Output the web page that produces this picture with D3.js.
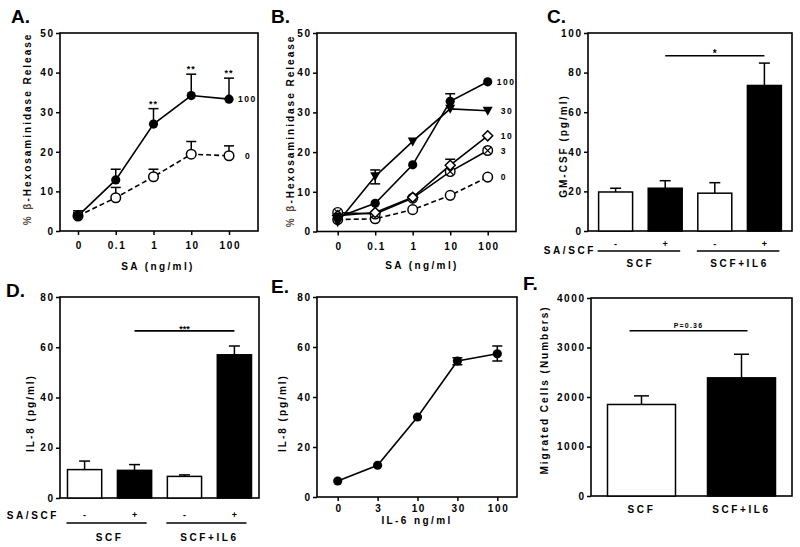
<!DOCTYPE html>
<html><head><meta charset="utf-8">
<script src="https://cdn.jsdelivr.net/npm/d3@7"></script>
<style>body{margin:0;background:#fff}svg text{font-family:'Liberation Sans',Arial,sans-serif;font-weight:bold;fill:#000}</style>
</head><body><script>
// ---------- DATA ----------
const saDoses = ["0","0.1","1","10","100"];
const aYTicks = [0,10,20,30,40,50];
const aNames = ["100","0"];
const aVal100 = [3.8,12.9,27.0,34.2,33.3];
const aErr100 = [5.1,15.6,30.9,39.6,38.6];
const aVal0   = [3.8,8.4,13.7,19.4,19.0];
const aErr0   = [4.6,11.0,15.6,22.6,21.5];
const aStars  = ["","","**","**","**"];

const bYTicks = [0,10,20,30,40,50];
const bNames = ["100","30","10","3","0"];
const bVal100 = [3.6,7.1,16.8,32.8,37.7];
const bErr100 = [null,null,null,34.7,null];
const bVal30  = [2.3,13.9,22.7,30.9,30.4];
const bErr30Lo= [null,12.0,null,null,null];
const bErr30Hi= [null,15.5,null,null,null];
const bVal10  = [4.0,4.8,8.6,16.7,24.1];
const bErr10  = [null,null,null,18.2,null];
const bVal3   = [4.8,4.4,8.4,15.1,20.4];
const bVal0   = [3.0,3.2,5.5,9.1,13.7];

const barSigns = ["-","+","-","+"];
const barGroups = ["SCF","SCF+IL6"];
const cYTicks = [0,20,40,60,80,100];
const cVals = [19.7,21.6,19.1,73.5];
const cErr  = [21.6,25.4,24.4,84.8];
const cSig  = {from:1,to:3,level:88.5,label:"*"};

const dYTicks = [0,20,40,60,80];
const dVals = [11.3,11.0,8.6,57.0];
const dErr  = [14.7,13.3,9.2,60.5];
const dSig  = {from:1,to:3,level:66.5,label:"***"};

const il6Doses = ["0","3","10","30","100"];
const eYTicks = [0,20,40,60,80];
const eVals  = [6.4,12.7,32.0,54.4,57.3];
const eErrLo = [null,null,null,52.9,54.4];
const eErrHi = [null,null,null,55.7,60.4];

const fCats = ["SCF","SCF+IL6"];
const fYTicks = [0,1000,2000,3000,4000];
const fVals = [1849,2387];
const fErr  = [2023,2864];
const fSig  = {level:3339,label:"P=0.36"};

// ---------- SETUP ----------
const svg = d3.select("body").append("svg").attr("width",800).attr("height",547);
const FONT = "'Liberation Sans',Arial,sans-serif";
const SW = 1.6;

function frame(p){
  svg.append("rect").attr("x",p.l).attr("y",p.t).attr("width",p.r-p.l).attr("height",p.b-p.t)
    .attr("fill","none").attr("stroke","#000").attr("stroke-width",SW);
}
function styleAxis(g){
  g.attr("font-family",FONT).attr("font-size",10).attr("font-weight","bold");
  g.select(".domain").remove();
  g.selectAll("line").attr("stroke-width",1.5);
  g.selectAll("text").attr("letter-spacing","1.6px");
}
function yAxis(p,y,ticks){
  const g = svg.append("g").attr("transform",`translate(${p.l},0)`)
    .call(d3.axisLeft(y).tickValues(ticks).tickSize(4).tickPadding(3).tickFormat(d3.format("d")));
  styleAxis(g);
  g.selectAll("text").attr("dx","1.6");
}
function xAxis(p,x,pad){
  const g = svg.append("g").attr("transform",`translate(0,${p.b})`)
    .call(d3.axisBottom(x).tickSize(4).tickPadding(pad));
  styleAxis(g);
  g.selectAll("text").attr("dx","0.8");
}
function label(txt,x,y,opt={}){
  const t = svg.append("text").attr("x",x).attr("y",y).text(txt)
    .attr("font-size",opt.size||10).attr("text-anchor",opt.anchor||"middle")
    .attr("letter-spacing",(opt.ls!==undefined?opt.ls:2)+"px");
  if(opt.rot) t.attr("transform",`rotate(-90,${x},${y})`);
  if(opt.fill) t.attr("fill",opt.fill);
  return t;
}
function title(txt,x,y){ svg.append("text").attr("x",x).attr("y",y).text(txt).attr("font-size",19); }
function err(x,y1,y2,cap=10){
  svg.append("line").attr("x1",x).attr("x2",x).attr("y1",y1).attr("y2",y2).attr("stroke","#000").attr("stroke-width",1.5);
  svg.append("line").attr("x1",x-cap/2).attr("x2",x+cap/2).attr("y1",y2).attr("y2",y2).attr("stroke","#000").attr("stroke-width",1.5);
}
function marker(type,x,y){
  const g = svg.append("g").attr("transform",`translate(${x},${y})`);
  if(type==="filled") g.append("circle").attr("r",4.6).attr("fill","#000");
  else if(type==="open") g.append("circle").attr("r",4.8).attr("fill","#fff").attr("stroke","#000").attr("stroke-width",1.5);
  else if(type==="tri") g.append("path").attr("d","M-5,-4L5,-4L0,5Z").attr("fill","#000");
  else if(type==="diamond") g.append("path").attr("d","M0,-5L5,0L0,5L-5,0Z").attr("fill","#fff").attr("stroke","#000").attr("stroke-width",1.5);
  else if(type==="xcircle"){
    g.append("circle").attr("r",4.8).attr("fill","#fff").attr("stroke","#000").attr("stroke-width",1.4);
    g.append("path").attr("d","M-3.3,-3.3L3.3,3.3M-3.3,3.3L3.3,-3.3").attr("stroke","#000").attr("stroke-width",1.2);
  }
}
function line(x,y,vals,dash){
  const gen = d3.line().x((d,i)=>x(i)).y(d=>y(d));
  svg.append("path").attr("d",gen(vals)).attr("fill","none").attr("stroke","#000")
    .attr("stroke-width",1.6).attr("stroke-dasharray",dash?"5,3":null);
}

// ---------- PANEL A ----------
{
  const p = {l:60,r:258,t:33,b:231};
  const x = d3.scalePoint().domain(saDoses).range([78,229]);
  const xi = i=>x(saDoses[i]);
  const y = d3.scaleLinear().domain([0,50]).range([p.b,p.t]);
  title("A.",11,23);
  frame(p); yAxis(p,y,aYTicks); xAxis(p,x,7);
  line(xi,y,aVal0,true); line(xi,y,aVal100,false);
  aVal0.forEach((v,i)=>{ if(aErr0[i]!=null) err(xi(i),y(v),y(aErr0[i])); });
  aVal100.forEach((v,i)=>{ if(aErr100[i]!=null) err(xi(i),y(v),y(aErr100[i])); });
  aVal0.forEach((v,i)=>marker("open",xi(i),y(v)));
  aVal100.forEach((v,i)=>marker("filled",xi(i),y(v)));
  aStars.forEach((s,i)=>{ if(s) label(s,xi(i),y(aErr100[i])-2,{size:9,ls:1}); });
  label(aNames[0],xi(4)+9,y(aVal100[4])+3,{anchor:"start",size:8.5,ls:1.5});
  label(aNames[1],xi(4)+16,y(aVal0[4])+3,{anchor:"start",size:8.5,ls:1.5});
  const yl = label("",31,129,{rot:true});
  yl.append("tspan").text("% β").attr("fill","#5a4438");
  yl.append("tspan").text("-Hexosaminidase Release");
  label("SA (ng/ml)",158,270,{ls:2.4});
}

// ---------- PANEL B ----------
{
  const p = {l:317,r:516,t:33,b:231.5};
  const x = d3.scalePoint().domain(saDoses).range([337.7,487.7]);
  const xi = i=>x(saDoses[i]);
  const y = d3.scaleLinear().domain([0,50]).range([p.b,p.t]);
  title("B.",271,23);
  frame(p); yAxis(p,y,bYTicks); xAxis(p,x,7);
  line(xi,y,bVal0,true);
  line(xi,y,bVal3,false); line(xi,y,bVal10,false); line(xi,y,bVal30,false); line(xi,y,bVal100,false);
  bErr100.forEach((e,i)=>{ if(e!=null) err(xi(i),y(bVal100[i]),y(e)); });
  bErr10.forEach((e,i)=>{ if(e!=null) err(xi(i),y(bVal10[i]),y(e)); });
  bErr30Hi.forEach((e,i)=>{ if(e!=null){ err(xi(i),y(bVal30[i]),y(e)); err(xi(i),y(bVal30[i]),y(bErr30Lo[i])); } });
  bVal0.forEach((v,i)=>marker("open",xi(i),y(v)));
  bVal3.forEach((v,i)=>marker("xcircle",xi(i),y(v)));
  bVal10.forEach((v,i)=>marker("diamond",xi(i),y(v)));
  bVal100.forEach((v,i)=>marker("filled",xi(i),y(v)));
  bVal30.forEach((v,i)=>marker("tri",xi(i),y(v)));
  const lastVals = [bVal100[4],bVal30[4],bVal10[4],bVal3[4],bVal0[4]];
  bNames.forEach((n,k)=>label(n,xi(4)+(k===0?9:13),y(lastVals[k])+3,{anchor:"start",size:8.5,ls:1.5}));
  const yl = label("",294,131,{rot:true});
  yl.append("tspan").text("% β").attr("fill","#5a4438");
  yl.append("tspan").text("-Hexosaminidase Release");
  label("SA (ng/ml)",422,269,{ls:2.4});
}

// ---------- bar panel helper ----------
function barPanel(p,vals,errs,yDomain,ticks,fills,po){
  const x = d3.scaleBand().domain(d3.range(vals.length)).range([p.l,p.r]).paddingInner(0.315).paddingOuter(po);
  const y = d3.scaleLinear().domain(yDomain).range([p.b,p.t]);
  frame(p); yAxis(p,y,ticks);
  vals.forEach((v,i)=>err(x(i)+x.bandwidth()/2,y(v),y(errs[i]),11));
  svg.append("g").selectAll("rect").data(vals).join("rect")
    .attr("x",(d,i)=>x(i)).attr("y",d=>y(d)).attr("width",x.bandwidth()).attr("height",d=>p.b-y(d))
    .attr("fill",(d,i)=>fills[i]).attr("stroke","#000").attr("stroke-width",1.5);
  return {x,y,cx:i=>x(i)+x.bandwidth()/2};
}
function sigLine(x1,x2,yy,txt,size,ls,dy){
  svg.append("line").attr("x1",x1).attr("x2",x2).attr("y1",yy).attr("y2",yy).attr("stroke","#000").attr("stroke-width",1.6);
  label(txt,(x1+x2)/2,yy+dy,{size:size,ls:ls});
}
const bwFills = ["#fff","#000","#fff","#000"];

// ---------- PANEL C ----------
{
  const p = {l:588,r:792,t:33,b:231};
  title("C.",547,23);
  const s = barPanel(p,cVals,cErr,[0,100],cYTicks,bwFills,0.214);
  sigLine(s.cx(cSig.from),s.cx(cSig.to),s.y(cSig.level),cSig.label,10,0,1);
  barSigns.forEach((t,i)=>label(t,s.cx(i),247,{size:9,ls:0}));
  label("SA/SCF",596,254,{anchor:"end",ls:2.6});
  [[0,1],[2,3]].forEach((pr,k)=>{
    svg.append("line").attr("x1",s.x(pr[0])-1).attr("x2",s.x(pr[1])+s.x.bandwidth()-2).attr("y1",251).attr("y2",251).attr("stroke","#000").attr("stroke-width",1.6);
    label(barGroups[k],(s.cx(pr[0])+s.cx(pr[1]))/2,267,{ls:2.6});
  });
  label("GM-CSF (pg/ml)",567,146,{rot:true,ls:2});
}

// ---------- PANEL D ----------
{
  const p = {l:60,r:259,t:297,b:498};
  title("D.",6,297);
  const s = barPanel(p,dVals,dErr,[0,80],dYTicks,bwFills,0.15);
  sigLine(s.cx(dSig.from),s.cx(dSig.to),s.y(dSig.level),dSig.label,9,0,1);
  barSigns.forEach((t,i)=>label(t,s.cx(i),518,{size:9,ls:0}));
  label("SA/SCF",59,519,{anchor:"end",ls:2.6});
  [[0,1],[2,3]].forEach((pr,k)=>{
    svg.append("line").attr("x1",s.x(pr[0])-1).attr("x2",s.x(pr[1])+s.x.bandwidth()-5).attr("y1",523).attr("y2",523).attr("stroke","#000").attr("stroke-width",1.6);
    label(barGroups[k],(s.cx(pr[0])+s.cx(pr[1]))/2,541,{ls:2.6});
  });
  label("IL-8 (pg/ml)",34,413,{rot:true,ls:2});
}

// ---------- PANEL E ----------
{
  const p = {l:317,r:517,t:297,b:497};
  const x = d3.scalePoint().domain(il6Doses).range([337.7,497.3]);
  const xi = i=>x(il6Doses[i]);
  const y = d3.scaleLinear().domain([0,80]).range([p.b,p.t]);
  title("E.",271,293);
  frame(p); yAxis(p,y,eYTicks); xAxis(p,x,4);
  line(xi,y,eVals,false);
  eVals.forEach((v,i)=>{ if(eErrHi[i]!=null){ err(xi(i),y(v),y(eErrHi[i])); err(xi(i),y(v),y(eErrLo[i])); } });
  eVals.forEach((v,i)=>marker("filled",xi(i),y(v)));
  label("IL-8 (pg/ml)",286,413,{rot:true,ls:2});
  label("IL-6 ng/ml",417,524,{ls:2.4});
}

// ---------- PANEL F ----------
{
  const p = {l:591,r:792,t:298,b:496};
  title("F.",523,290);
  const x = d3.scaleBand().domain(fCats).range([p.l,p.r]).paddingInner(0.32).paddingOuter(0.165);
  const y = d3.scaleLinear().domain([0,4000]).range([p.b,p.t]);
  frame(p); yAxis(p,y,fYTicks);
  fVals.forEach((v,i)=>err(x(fCats[i])+x.bandwidth()/2,y(v),y(fErr[i]),15));
  svg.append("g").selectAll("rect").data(fVals).join("rect")
    .attr("x",(d,i)=>x(fCats[i])).attr("y",d=>y(d)).attr("width",x.bandwidth()).attr("height",d=>p.b-y(d))
    .attr("fill",(d,i)=>i?"#000":"#fff").attr("stroke","#000").attr("stroke-width",1.5);
  const c0 = x(fCats[0])+x.bandwidth()/2, c1 = x(fCats[1])+x.bandwidth()/2;
  sigLine(c0-12,c1+6,y(fSig.level),fSig.label,7,1.2,-3);
  fCats.forEach((c,i)=>label(c,x(c)+x.bandwidth()/2,513,{ls:2.6}));
  label("Migrated Cells (Numbers)",548,390,{rot:true,ls:2});
}
</script></body></html>
